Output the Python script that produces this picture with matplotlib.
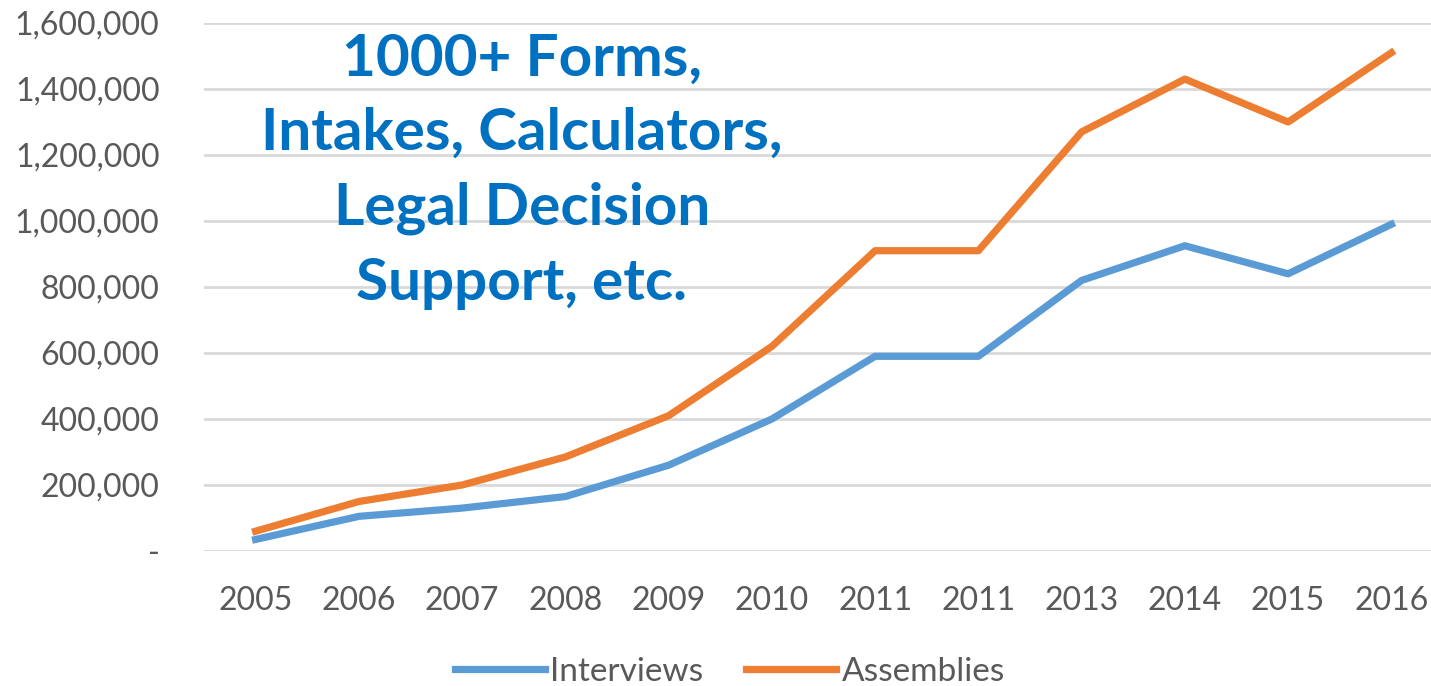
import matplotlib
matplotlib.use("Agg")
from matplotlib import pyplot as plt
from matplotlib.ticker import FuncFormatter

years = ["2005", "2006", "2007", "2008", "2009", "2010",
         "2011", "2011", "2013", "2014", "2015", "2016"]
interviews = [35000, 105000, 130000, 165000, 260000, 400000,
              590000, 590000, 820000, 925000, 840000, 990000]
assemblies = [60000, 150000, 200000, 285000, 410000, 620000,
              910000, 910000, 1270000, 1430000, 1300000, 1510000]
yticks = [0, 200000, 400000, 600000, 800000, 1000000, 1200000, 1400000, 1600000]
note = "1000+ Forms,\nIntakes, Calculators,\nLegal Decision\nSupport, etc."

plt.rcParams['font.family'] = ['Lato', 'DejaVu Sans']

W, H = 1431, 686
fig = plt.figure(figsize=(W / 100, H / 100), dpi=100)
ax = fig.add_axes([204 / W, 1 - 551 / H, (1443 - 204) / W, (551 - 23) / H])

x = list(range(len(years)))
ax.plot(x, interviews, color="#5B9BD5", lw=5.2, label="Interviews", solid_joinstyle="round")
ax.plot(x, assemblies, color="#ED7D31", lw=5.2, label="Assemblies", solid_joinstyle="round")

ax.set_xlim(-0.5, len(years) - 0.5)
ax.set_ylim(0, 1600000)
ax.set_xticks(x)
ax.set_xticklabels(years)
ax.set_yticks(yticks)
ax.yaxis.set_major_formatter(FuncFormatter(lambda v, p: "-" if v == 0 else f"{int(v):,}"))
ax.tick_params(axis="both", length=0, labelsize=23, labelcolor="#595959")
ax.tick_params(axis="y", pad=32)
ax.tick_params(axis="x", pad=25)
ax.grid(axis="y", color="#D9D9D9", lw=2)
ax.set_axisbelow(True)
for s in ax.spines.values():
    s.set_visible(False)

ax.text(522 / W, 1 - 171 / H, note, transform=fig.transFigure, ha="center", va="center",
        fontsize=42, fontweight="bold", color="#0070C0", linespacing=1.5)

fig.legend(loc="center", bbox_to_anchor=(0.51, 1 - 672 / H), ncol=2, frameon=False,
           fontsize=24, handlelength=2.7, columnspacing=1.3, handletextpad=0.15,
           labelcolor="#595959")

fig.savefig("out.png", dpi=100)
